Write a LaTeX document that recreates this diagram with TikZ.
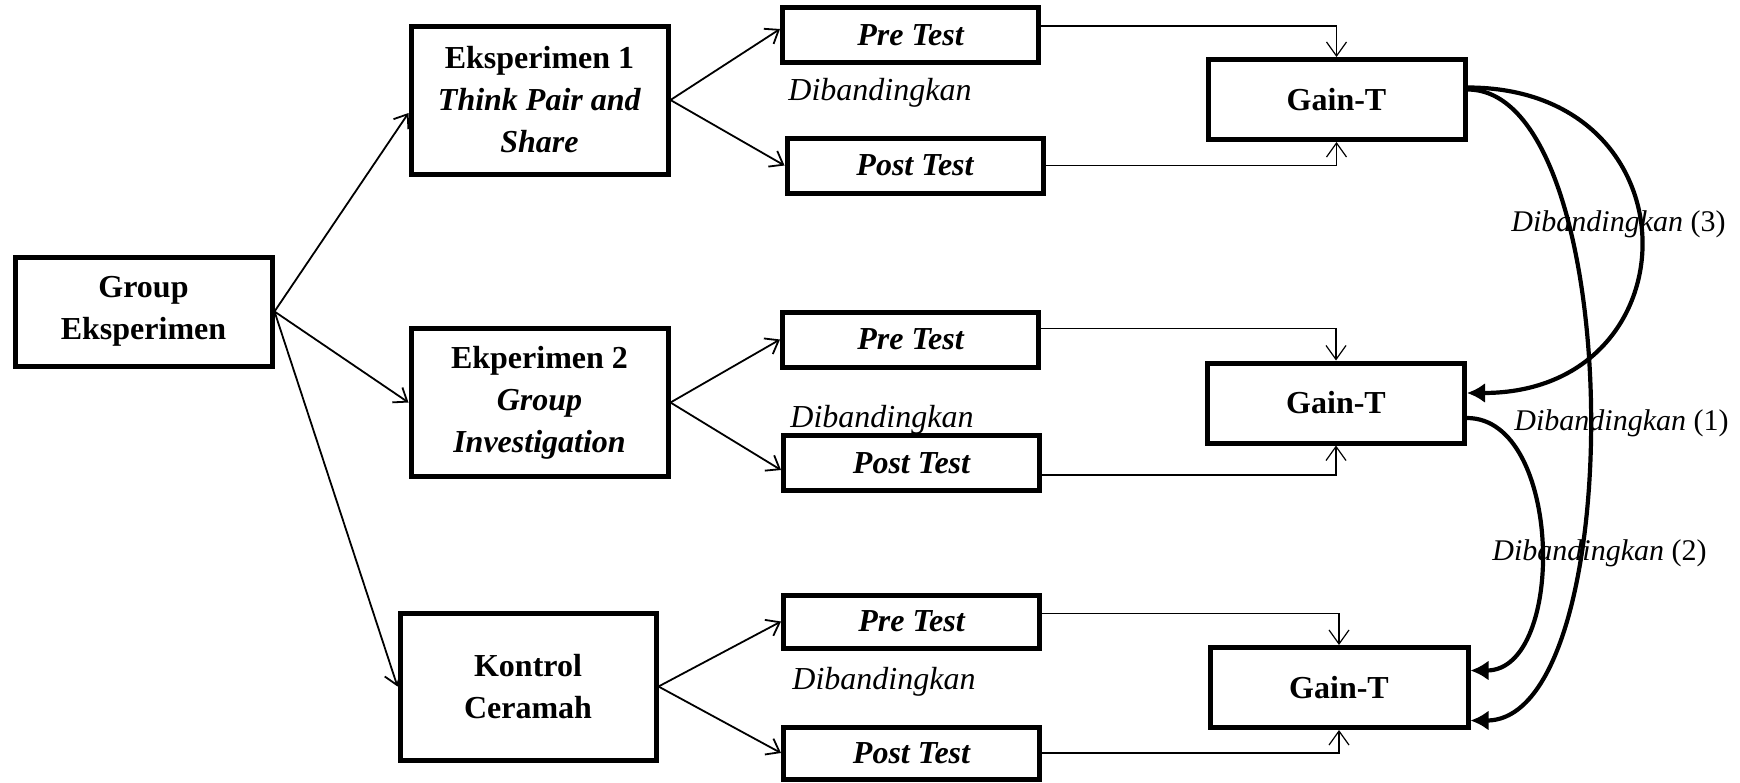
\documentclass[tikz,border=0pt]{standalone}
\usepackage{fontspec}
\setmainfont{Liberation Serif}
\usetikzlibrary{arrows.meta,calc}
\begin{document}
\begin{tikzpicture}[x=0.5pt,y=-0.5pt,
  box/.style={draw,line width=2.5pt,align=center,inner sep=0pt,font=\fontsize{16}{21}\selectfont\bfseries},
  big/.style={box,minimum width=128.5pt,minimum height=74pt},
  test/.style={box,minimum width=128pt,minimum height=27.5pt,font=\fontsize{16}{21}\selectfont\bfseries\itshape},
  gain/.style={box,minimum width=128.5pt,minimum height=40pt},
  lbl/.style={font=\fontsize{16}{20}\selectfont\itshape,inner sep=0pt,anchor=west},
  rlbl/.style={font=\fontsize{15}{18}\selectfont\itshape,inner sep=0pt,anchor=west},
  openarr/.style={-{Straight Barb[length=6pt,width=9pt]},line width=0.9pt},
  feed/.style={-{Straight Barb[length=7pt,width=10pt]},line width=0.6pt},
  cmp/.style={-{Latex[length=9pt,width=10pt]},line width=2.1pt}]
\fill[white] (0,0) rectangle (1740,782);
\useasboundingbox (0,0) rectangle (1740,782);

\node[box,minimum width=128.5pt,minimum height=54.5pt] (grp) at (143.5,311.5) {Group\\Eksperimen};
\node[big] (e1) at (539.5,100) {Eksperimen 1\\\textit{Think Pair and}\\\textit{Share}};
\node[big] (e2) at (539.5,402.5) {Ekperimen 2\\\textit{Group}\\\textit{Investigation}};
\node[big,minimum width=128pt,minimum height=73.5pt] (kon) at (528,686.5) {Kontrol\\Ceramah};

\node[test] (pre1) at (910.5,35) {\raisebox{-1.5pt}{Pre Test}};
\node[test] (post1) at (915,165.5) {\raisebox{-1.5pt}{Post Test}};
\node[test] (pre2) at (910.5,339.5) {\raisebox{-1.5pt}{Pre Test}};
\node[test] (post2) at (911.5,463) {\raisebox{-1.5pt}{Post Test}};
\node[test,minimum height=26.5pt] (pre3) at (911.5,621.5) {\raisebox{-1.5pt}{Pre Test}};
\node[test,minimum height=26pt] (post3) at (911.5,753) {\raisebox{-1.5pt}{Post Test}};

\node[gain] (g1) at (1336.5,99.5) {Gain-T};
\node[gain] (g2) at (1336,403) {Gain-T};
\node[gain,minimum width=129pt] (g3) at (1339,687.5) {Gain-T};

\node[lbl] (d1) at (788,93) {Dibandingkan};
\node[lbl] (d2) at (790,420) {Dibandingkan};
\node[lbl] (d3) at (792,682) {Dibandingkan};
\node[rlbl] (c3) at (1511,224) {Dibandingkan \textup{(3)}};
\node[rlbl] (c1) at (1514,423) {Dibandingkan \textup{(1)}};
\node[rlbl] (c2) at (1492,553) {Dibandingkan \textup{(2)}};

\draw[openarr] (grp.east) -- ($(e1.west)+(0,13)$);
\draw[openarr] (grp.east) -- (e2.west);
\draw[openarr] (grp.east) -- (kon.west);

\draw[openarr] (e1.east) -- ($(pre1.west)+(0,-6)$);
\draw[openarr] (e1.east) -- (post1.west);
\draw[openarr] (e2.east) -- (pre2.west);
\draw[openarr] (e2.east) -- ($(post2.west)+(0,7)$);
\draw[openarr] (kon.east) -- (pre3.west);
\draw[openarr] (kon.east) -- (post3.west);

\draw[feed] ($(pre1.east)+(0,-9)$) -| (g1.north);
\draw[feed] (post1.east) -| (g1.south);
\draw[feed] ($(pre2.east)+(0,-11)$) -| (g2.north);
\draw[feed] ($(post2.east)+(0,12)$) -| (g2.south);
\draw[feed] ($(pre3.east)+(0,-8)$) -| (g3.north);
\draw[feed] (post3.east) -| (g3.south);

\draw[cmp] ($(g1.east)+(0,-12)$) .. controls +(232,0) and +(230,0) .. ($(g2.east)+(0,-10)$);
\draw[cmp] ($(g1.east)+(0,-10)$) .. controls +(160,0) and +(160,0) .. ($(g3.east)+(0,33)$);
\draw[cmp] ($(g2.east)+(0,15)$) .. controls +(96,0) and +(96,0) .. ($(g3.east)+(0,-17)$);
\end{tikzpicture}
\end{document}
